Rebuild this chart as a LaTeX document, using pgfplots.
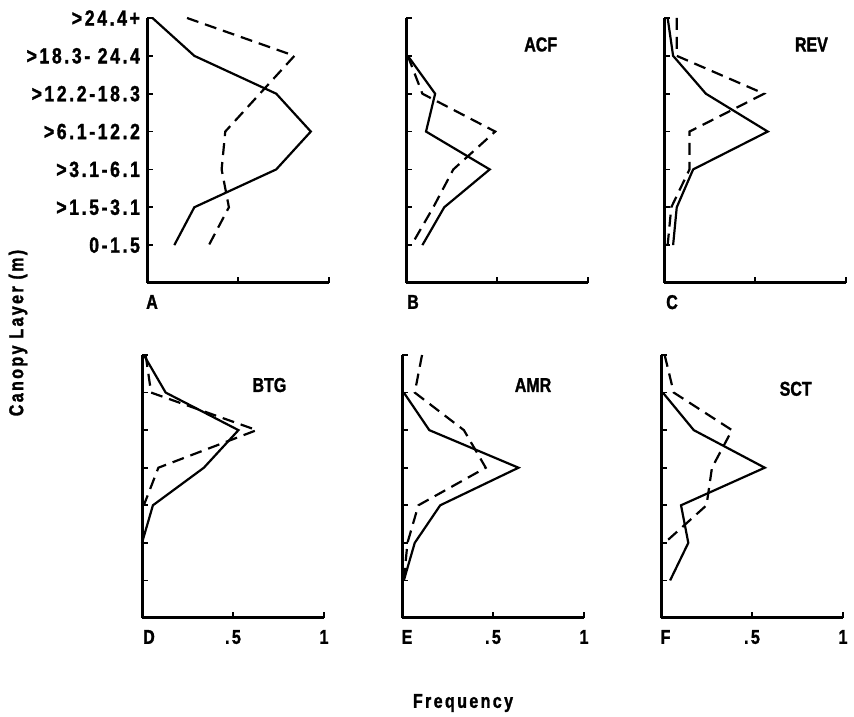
\documentclass[border=0pt]{standalone}
\usepackage{fontspec}
\setmainfont{Liberation Sans}[FakeStretch=0.8, FakeBold=1.5, UprightFont={* Bold}, BoldFont={* Bold}]
\newfontfamily\lsfont{Liberation Sans}[FakeStretch=0.8, FakeBold=1.5, LetterSpace=12, UprightFont={* Bold}, BoldFont={* Bold}]
\usepackage{pgfplots}
\pgfplotsset{compat=1.18}
\tikzset{ttl/.style={font=\fontsize{10}{12}\selectfont, anchor=center}}
\pgfplotsset{
  panel/.style={
    scale only axis, width=91pt, xmin=0, xmax=1, ymin=0, ymax=7,
    axis x line*=bottom, axis y line*=left,
    axis line style={line width=1.5pt, -},
    xtick={0,0.5,1}, ytick={1,...,7},
    tick align=inside, major tick length=3pt,
    tick style={line width=0.9pt, black},
    yticklabels={},
    clip=false, anchor=south west,
    /pgf/number format/assume math mode=true,
    ticklabel style={font=\lsfont\fontsize{10}{12}\selectfont},
    xticklabel style={yshift=-2.5pt},
  },
  ptop/.style={panel, height=132.5pt},
  pbot/.style={panel, height=131.5pt},
  sol/.style={black, line width=1.1pt, mark=none},
  das/.style={black, line width=1.1pt, mark=none, dash pattern=on 6pt off 3.5pt},
}
\begin{document}
\begin{tikzpicture}
\useasboundingbox (0,0) rectangle (427pt,358pt);
% Panel A
\begin{axis}[ptop, at={(73.5pt,216.5pt)}, xticklabels={\hspace{5pt}A,{},{}},
  yticklabels={0-1.5,>1.5-3.1,>3.1-6.1,>6.1-12.2,>12.2-18.3,>18.3- 24.4,>24.4+},
  yticklabel style={font=\lsfont\fontsize{11}{13}\selectfont}]
\addplot[sol] coordinates {(0.03,7) (0.26,6) (0.71,5) (0.90,4) (0.71,3) (0.26,2) (0.15,1)};
\addplot[das] coordinates {(0.22,7) (0.81,6) (0.62,5) (0.43,4) (0.41,3) (0.45,2) (0.34,1)};
\end{axis}
% Panel B
\begin{axis}[ptop, at={(203pt,216.5pt)}, xticklabels={\hspace{7pt}B,{},{}}]
\addplot[sol] coordinates {(0.01,6) (0.16,5) (0.11,4) (0.46,3) (0.21,2) (0.09,1)};
\addplot[das] coordinates {(0.01,6) (0.09,5) (0.49,4) (0.26,3) (0.15,2) (0.03,1)};
\node[ttl] at (axis cs:0.74,6.3) {ACF};
\end{axis}
% Panel C
\begin{axis}[ptop, at={(332pt,216.5pt)}, xticklabels={\hspace{8pt}C,{},{}}]
\addplot[sol] coordinates {(0.02,7) (0.05,6) (0.23,5) (0.57,4) (0.16,3) (0.07,2) (0.05,1)};
\addplot[das] coordinates {(0.07,7) (0.07,6) (0.55,5) (0.14,4) (0.14,3) (0.04,2) (0.02,1)};
\node[ttl] at (axis cs:0.81,6.3) {REV};
\end{axis}
% Panel D
\begin{axis}[pbot, at={(71pt,49pt)}, xticklabels={\hspace{7pt}D,.5,1}]
\addplot[sol] coordinates {(0.01,7) (0.13,6) (0.53,5) (0.34,4) (0.06,3) (0,2)};
\addplot[das] coordinates {(0.02,7) (0.05,6) (0.63,5) (0.09,4) (0.01,3)};
\node[ttl] at (axis cs:0.70,6.2) {BTG};
\end{axis}
% Panel E
\begin{axis}[pbot, at={(201pt,49pt)}, xticklabels={\hspace{5pt}E,.5,1}]
\addplot[sol] coordinates {(0.01,6) (0.15,5) (0.64,4) (0.21,3) (0.07,2) (0.01,1)};
\addplot[das] coordinates {(0.11,7) (0.07,6) (0.34,5) (0.46,4) (0.09,3) (0.03,2) (0.01,1)};
\node[ttl] at (axis cs:0.72,6.2) {AMR};
\end{axis}
% Panel F
\begin{axis}[pbot, at={(330.5pt,49pt)}, xticklabels={\hspace{4.5pt}F,.5,1}]
\addplot[sol] coordinates {(0.01,6) (0.18,5) (0.57,4) (0.11,3) (0.15,2) (0.05,1)};
\addplot[das] coordinates {(0.02,7) (0.07,6) (0.39,5) (0.28,4) (0.25,3) (0.02,2)};
\node[ttl] at (axis cs:0.74,6.1) {SCT};
\end{axis}
\node[rotate=90, font=\lsfont\fontsize{10}{12}\selectfont] at (9pt,191.5pt) {Canopy Layer (m)};
\node[font=\lsfont\fontsize{10}{12}\selectfont] at (231.5pt,6.5pt) {Frequency};
\end{tikzpicture}
\end{document}
